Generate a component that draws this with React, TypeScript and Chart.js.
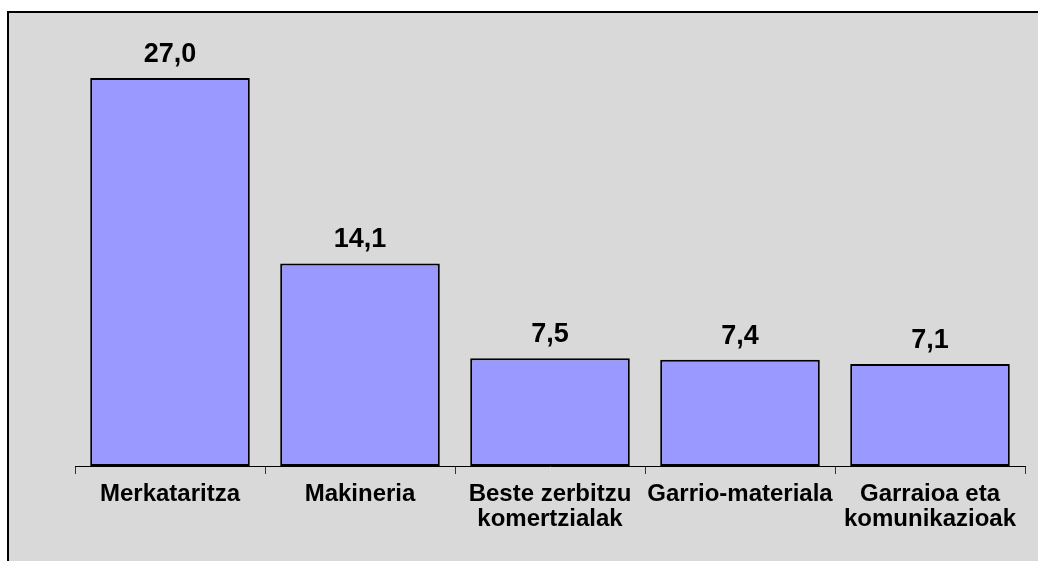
import React, { useEffect, useRef } from "react";
import { Chart, registerables } from "chart.js";

Chart.register(...registerables);

const categories: (string | string[])[] = [
  "Merkataritza",
  "Makineria",
  ["Beste zerbitzu", "komertzialak"],
  "Garrio-materiala",
  ["Garraioa eta", "komunikazioak"],
];
const values: number[] = [27.0, 14.1, 7.5, 7.4, 7.1];
const valueLabels: string[] = ["27,0", "14,1", "7,5", "7,4", "7,1"];

const FONT = "'Liberation Sans', Arial, sans-serif";

const bgPlugin = {
  id: "bgPlugin",
  beforeDraw(chart: any) {
    const ctx = chart.ctx;
    ctx.save();
    ctx.fillStyle = "#ffffff";
    ctx.fillRect(0, 0, chart.width, chart.height);
    ctx.fillStyle = "#d9d9d9";
    ctx.fillRect(7, 11, chart.width, chart.height);
    ctx.strokeStyle = "#000000";
    ctx.lineWidth = 2;
    ctx.beginPath();
    ctx.moveTo(8, chart.height + 5);
    ctx.lineTo(8, 12);
    ctx.lineTo(chart.width + 5, 12);
    ctx.stroke();
    ctx.restore();
  },
};

const valueLabelPlugin = {
  id: "valueLabelPlugin",
  afterDatasetsDraw(chart: any) {
    const ctx = chart.ctx;
    const meta = chart.getDatasetMeta(0);
    ctx.save();
    ctx.fillStyle = "#000000";
    ctx.font = `bold 27px ${FONT}`;
    ctx.textAlign = "center";
    ctx.textBaseline = "alphabetic";
    meta.data.forEach((bar: any, i: number) => {
      ctx.fillText(valueLabels[i], bar.x, bar.y - 16);
    });
    ctx.restore();
  },
};

export default function App() {
  const canvasRef = useRef<HTMLCanvasElement>(null);

  useEffect(() => {
    const canvas = canvasRef.current!;
    const chart = new Chart(canvas, {
      type: "bar",
      data: {
        labels: categories,
        datasets: [
          {
            data: values,
            backgroundColor: "#9999ff",
            borderColor: "#000000",
            borderWidth: 2,
            borderSkipped: false,
            categoryPercentage: 1,
            barPercentage: 0.84,
          },
        ],
      },
      options: {
        animation: false,
        responsive: false,
        maintainAspectRatio: false,
        layout: { padding: { left: 75, right: 13, top: 35, bottom: 0 } },
        plugins: {
          legend: { display: false },
          tooltip: { enabled: false },
        },
        scales: {
          x: {
            afterFit(scale: any) {
              scale.height = 95;
            },
            border: { display: true, color: "#000000", width: 1 },
            grid: {
              display: true,
              drawOnChartArea: false,
              drawTicks: true,
              tickLength: 8,
              color: "#333333",
              offset: true,
            },
            ticks: {
              color: "#000000",
              padding: 8,
              maxRotation: 0,
              autoSkip: false,
              font: { family: FONT, size: 24, weight: "bold", lineHeight: 1.05 },
            },
          },
          y: {
            display: false,
            min: 0,
            max: 30,
          },
        },
      },
      plugins: [bgPlugin, valueLabelPlugin],
    });
    return () => chart.destroy();
  }, []);

  return (
    <div style={{ position: "absolute", left: 0, top: 0, width: 1038, height: 561 }}>
      <canvas ref={canvasRef} width={1038} height={561} style={{ display: "block" }} />
    </div>
  );
}
